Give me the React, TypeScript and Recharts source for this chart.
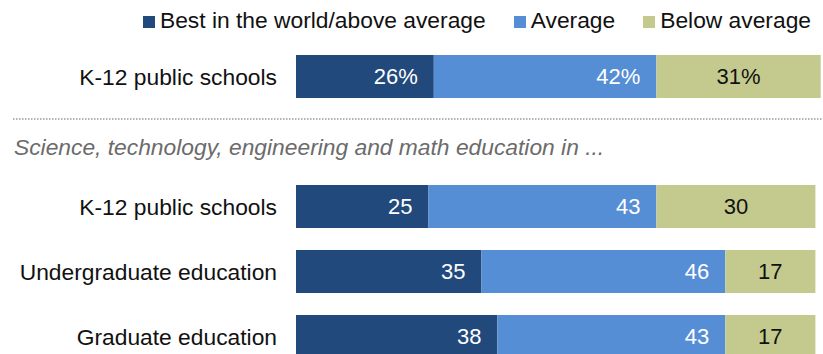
import { BarChart, Bar, XAxis, YAxis, LabelList } from 'recharts';

// survey rows (a blank row holds the space for the section heading)
const rowLabels = [
  'K-12 public schools',
  '',
  'K-12 public schools',
  'Undergraduate education',
  'Graduate education',
];
const bestValues = [26, null, 25, 35, 38];
const averageValues = [42, null, 43, 46, 43];
const belowValues = [31, null, 30, 17, 17];
// only the first row shows percent signs
const showPercent = [true, false, false, false, false];

const seriesNames = ['Best in the world/above average', 'Average', 'Below average'];
const seriesColors = ['#21497b', '#568ed5', '#c4ca8e'];
const sectionTitle = 'Science, technology, engineering and math education in ...';

const FONT = '"Liberation Sans", Arial, sans-serif';

const fmt = (v: number | null, pct: boolean) => (v == null ? '' : pct ? `${v}%` : `${v}`);

const data = rowLabels.map((label, i) => ({
  id: `row${i}`,
  label,
  best: bestValues[i],
  average: averageValues[i],
  below: belowValues[i],
  bestText: fmt(bestValues[i], showPercent[i]),
  averageText: fmt(averageValues[i], showPercent[i]),
  belowText: fmt(belowValues[i], showPercent[i]),
}));

const keys = ['best', 'average', 'below'];

export default function App() {
  return (
    <div
      style={{
        position: 'absolute',
        left: 0,
        top: 0,
        width: 823,
        height: 354,
        overflow: 'hidden',
        background: '#fff',
        fontFamily: FONT,
      }}
    >
      {/* legend */}
      <div
        style={{
          position: 'absolute',
          top: 7,
          right: 12,
          display: 'flex',
          alignItems: 'baseline',
          fontSize: 22.8,
          color: '#111',
          whiteSpace: 'nowrap',
        }}
      >
        {seriesNames.map((name, i) => (
          <span key={name} style={{ marginLeft: i === 0 ? 0 : 28, display: 'flex', alignItems: 'baseline' }}>
            <span
              style={{
                display: 'inline-block',
                width: 12,
                height: 12,
                background: seriesColors[i],
                marginRight: 5,
              }}
            />
            {name}
          </span>
        ))}
      </div>

      {/* dotted divider + section heading */}
      <svg style={{ position: 'absolute', left: 0, top: 0 }} width={823} height={354}>
        <line x1={13} x2={823} y1={119} y2={119} stroke="#9a9a9a" strokeWidth={1.5} strokeDasharray="1.5 1.5" />
      </svg>
      <div
        style={{
          position: 'absolute',
          left: 14,
          top: 134,
          fontSize: 22.8,
          fontStyle: 'italic',
          color: '#6b6b6b',
          whiteSpace: 'nowrap',
        }}
      >
        {sectionTitle}
      </div>

      <div style={{ position: 'absolute', left: 0, top: 0 }}>
        <BarChart
          width={826}
          height={369}
          data={data}
          layout="vertical"
          margin={{ top: 44, right: 0, bottom: 0, left: 0 }}
        >
          <XAxis type="number" domain={[0, 100]} hide />
          <YAxis
            type="category"
            dataKey="id"
            width={296}
            axisLine={false}
            tickLine={false}
            tickSize={0}
            tickMargin={19}
            interval={0}
            tickFormatter={(id: string) => data.find((d) => d.id === id)?.label ?? ''}
            tick={{ fontSize: 22.8, fill: '#111', fontFamily: FONT }}
          />
          {keys.map((k, i) => (
            <Bar
              key={k}
              dataKey={k}
              stackId="a"
              barSize={43}
              fill={seriesColors[i]}
              isAnimationActive={false}
            >
              <LabelList
                dataKey={`${k}Text`}
                position={i === 2 ? 'center' : 'insideRight'}
                offset={16}
                fill={i === 2 ? '#111' : '#fff'}
                fontSize={22}
                fontFamily={FONT}
              />
            </Bar>
          ))}
        </BarChart>
      </div>
    </div>
  );
}
